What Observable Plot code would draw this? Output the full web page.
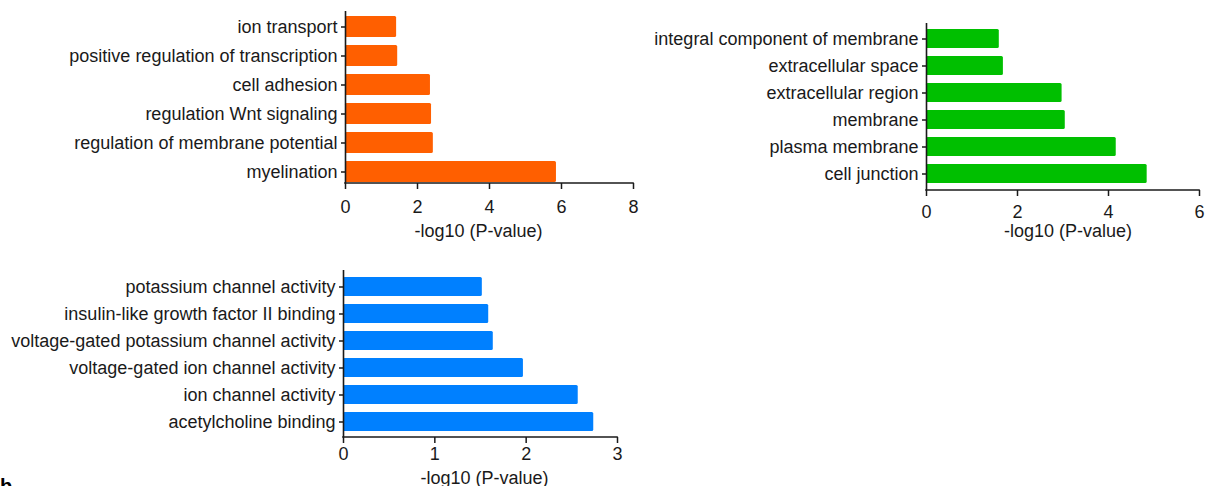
<!DOCTYPE html>
<html><head><meta charset="utf-8">
<script src="https://cdn.jsdelivr.net/npm/d3@7"></script>
<script src="https://cdn.jsdelivr.net/npm/@observablehq/plot@0.6"></script>
<style>
html,body{margin:0;padding:0;background:#fff;overflow:hidden;width:1207px;height:486px;}
#wrap{position:relative;width:1207px;height:486px;font-family:"Liberation Sans",Arial,sans-serif;}
.panel{position:absolute;}
#tag{position:absolute;left:0;top:476px;font:bold 20px/20px "Liberation Sans",Arial,sans-serif;color:#000;}
</style></head><body>
<div id="wrap">
<div id="p1" class="panel" style="left:0;top:0"></div>
<div id="p2" class="panel" style="left:600px;top:0"></div>
<div id="p3" class="panel" style="left:0;top:255px"></div>
<div id="tag">b</div>
</div>
<script>
// Biological process
const bpTerms = ["ion transport","positive regulation of transcription","cell adhesion","regulation Wnt signaling","regulation of membrane potential","myelination"];
const bpValues = [1.42, 1.45, 2.36, 2.39, 2.44, 5.86];
const bpTicks = [0, 2, 4, 6, 8];
// Cellular component
const ccTerms = ["integral component of membrane","extracellular space","extracellular region","membrane","plasma membrane","cell junction"];
const ccValues = [1.60, 1.69, 2.98, 3.05, 4.17, 4.85];
const ccTicks = [0, 2, 4, 6];
// Molecular function
const mfTerms = ["potassium channel activity","insulin-like growth factor II binding","voltage-gated potassium channel activity","voltage-gated ion channel activity","ion channel activity","acetylcholine binding"];
const mfValues = [1.52, 1.59, 1.64, 1.97, 2.57, 2.74];
const mfTicks = [0, 1, 2, 3];
const axisTitle = "-log10 (P-value)";
const colors = {bp: "#ff5f00", cc: "#00bf00", mf: "#0080ff"};

function panel(terms, values, ticks, color, L) {
  const data = terms.map((t, i) => ({term: t, value: values[i]}));
  const xmax = ticks[ticks.length - 1];
  const ink = "#1a1a1a";
  const bottomLine = (index, scales, vals, dims) => {
    const y = dims.height - dims.marginBottom;
    return d3.create("svg:line")
      .attr("x1", scales.x(0) - 0.8).attr("x2", scales.x(xmax) + 0.8)
      .attr("y1", y).attr("y2", y)
      .attr("stroke", ink).attr("stroke-width", 1.6).node();
  };
  return Plot.plot({
    width: L.width, height: L.height,
    marginLeft: L.ml, marginRight: L.mr, marginTop: L.mt, marginBottom: L.mb,
    style: {fontFamily: '"Liberation Sans", Arial, sans-serif', fontSize: "18px", color: ink, background: "transparent", overflow: "visible"},
    x: {domain: [0, xmax], label: null},
    y: {domain: terms, paddingInner: 0.28, paddingOuter: L.po, align: L.al, label: null},
    marks: [
      Plot.barX(data, {x: "value", y: "term", fill: color, rx: 1.5}),
      Plot.ruleX([0], {stroke: ink, strokeWidth: 1.6}),
      bottomLine,
      Plot.axisX({ticks: ticks, tickFormat: d => String(d), tickSize: 6, tickPadding: L.tp, strokeWidth: 1.5, label: null, fontSize: 18}),
      Plot.axisY({tickSize: 4, tickPadding: 4, strokeWidth: 1.5, label: null, fontSize: 18}),
      Plot.text([axisTitle], {frameAnchor: "bottom", lineAnchor: "bottom", dy: L.ty, dx: L.tx, fontSize: 18, fill: ink})
    ]
  });
}

document.getElementById("p1").append(panel(bpTerms, bpValues, bpTicks, colors.bp,
  {width: 650, height: 250, ml: 345, mr: 17, mt: 11, mb: 67, po: 0.085, al: 0.8, tp: 11, ty: 53, tx: -11}));
document.getElementById("p2").append(panel(ccTerms, ccValues, ccTicks, colors.cc,
  {width: 607, height: 250, ml: 326, mr: 8, mt: 23, mb: 60, po: 0.14, al: 0.5, tp: 9, ty: 46, tx: 5}));
document.getElementById("p3").append(panel(mfTerms, mfValues, mfTicks, colors.mf,
  {width: 640, height: 231, ml: 343, mr: 23, mt: 15, mb: 49, po: 0.16, al: 0.55, tp: 4, ty: 46, tx: 4}));
</script>
</body></html>
